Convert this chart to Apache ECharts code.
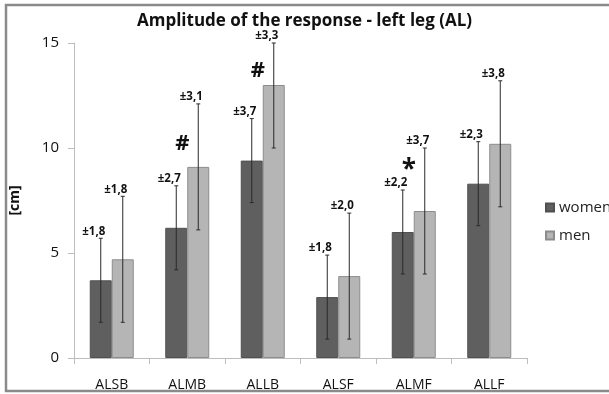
<!DOCTYPE html>
<html>
<head>
<meta charset="utf-8">
<script src="https://cdn.jsdelivr.net/npm/echarts@6/dist/echarts.min.js"></script>
<style>
  html, body { margin: 0; padding: 0; background: #fff; }
  #chart { width: 609px; height: 394px; }
</style>
</head>
<body>
<div id="chart"></div>
<script>
const categories = ['ALSB', 'ALMB', 'ALLB', 'ALSF', 'ALMF', 'ALLF'];
const women = [3.7, 6.2, 9.4, 2.9, 6.0, 8.3];
const men = [4.7, 9.1, 13.0, 3.9, 7.0, 10.2];
const womenErr = [2.0, 2.0, 2.0, 2.0, 2.0, 2.0];
const menErr = [3.0, 3.0, 3.0, 3.0, 3.0, 3.0];
const womenSdLabels = ['±1,8', '±2,7', '±3,7', '±1,8', '±2,2', '±2,3'];
const menSdLabels = ['±1,8', '±3,1', '±3,3', '±2,0', '±3,7', '±3,8'];
const marks = [
  { cat: 1, y: 10.2, text: '#' },
  { cat: 2, y: 13.7, text: '#' },
  { cat: 4, y: 9.2, text: '*' }
];
const yTicks = { min: 0, max: 15, interval: 5 };

const FONT = 'Open Sans';
const BAR_W = 22;

function errSeries(name, values, errs, labels, dx) {
  return {
    type: 'custom',
    name: name + '-err',
    z: 5,
    silent: true,
    data: values.map((v, i) => [i, v, errs[i]]),
    renderItem: function (params, api) {
      const i = api.value(0), v = api.value(1), e = api.value(2);
      const c = api.coord([i, v]);
      const x = c[0] + dx;
      const yt = api.coord([i, Math.min(v + e, yTicks.max)])[1];
      const yb = api.coord([i, Math.max(v - e, yTicks.min)])[1];
      return {
        type: 'group',
        children: [
          { type: 'line', shape: { x1: x, y1: yt, x2: x, y2: yb }, style: { stroke: '#2a2a2a', lineWidth: 1 } },
          { type: 'line', shape: { x1: x - 2, y1: yt, x2: x + 2, y2: yt }, style: { stroke: '#2a2a2a', lineWidth: 1 } },
          { type: 'line', shape: { x1: x - 2, y1: yb, x2: x + 2, y2: yb }, style: { stroke: '#2a2a2a', lineWidth: 1 } },
          { type: 'text', x: x - 7, y: yt - 1, style: { text: labels[params.dataIndex], font: 'bold 11.5px "' + FONT + '"', fill: '#111', align: 'center', verticalAlign: 'bottom' } }
        ]
      };
    }
  };
}

const chart = echarts.init(document.getElementById('chart'), null, { renderer: 'canvas' });
chart.setOption({
  animation: false,
  backgroundColor: '#fff',
  title: {
    text: 'Amplitude of the response - left leg (AL)',
    left: 'center',
    top: 8,
    textStyle: { fontFamily: FONT, fontWeight: 'bold', fontSize: 17, color: '#111' }
  },
  graphic: [{
    type: 'rect',
    shape: { x: 6, y: 5, width: 610, height: 386 },
    style: { fill: 'none', stroke: '#8a8a8a', lineWidth: 2.5 },
    silent: true
  }],
  legend: {
    orient: 'vertical',
    left: 540,
    top: 195,
    itemWidth: 8,
    itemHeight: 8,
    itemGap: 13,
    icon: 'rect',
    data: ['women', 'men'],
    textStyle: { fontFamily: FONT, fontSize: 15, color: '#222' }
  },
  grid: { left: 65, right: 82, top: 43, bottom: 36, containLabel: false },
  xAxis: {
    type: 'category',
    data: categories,
    axisLine: { lineStyle: { color: '#bdbdbd' } },
    axisTick: { show: true, length: 6, lineStyle: { color: '#bdbdbd' } },
    axisLabel: { margin: 20, fontFamily: FONT, fontSize: 14, color: '#111' },
    splitLine: { show: false }
  },
  yAxis: {
    type: 'value',
    min: yTicks.min, max: yTicks.max, interval: yTicks.interval,
    name: '[cm]',
    nameLocation: 'middle',
    nameRotate: 90,
    nameGap: 52,
    nameTextStyle: { fontFamily: FONT, fontWeight: 'bold', fontSize: 14, color: '#111' },
    axisLine: { show: true, lineStyle: { color: '#bdbdbd' } },
    axisTick: { show: true, length: 6, lineStyle: { color: '#bdbdbd' } },
    axisLabel: { margin: 15, fontFamily: FONT, fontSize: 15, color: '#111' },
    splitLine: { show: false }
  },
  series: [
    {
      name: 'women', type: 'bar', data: women, barWidth: BAR_W, barGap: '0%',
      itemStyle: { color: '#5f5f5f', borderColor: '#505050', borderWidth: 1 }
    },
    {
      name: 'men', type: 'bar', data: men, barWidth: BAR_W, barGap: '0%',
      itemStyle: { color: '#b5b5b5', borderColor: '#8c8c8c', borderWidth: 1 }
    },
    errSeries('women', women, womenErr, womenSdLabels, -BAR_W / 2),
    errSeries('men', men, menErr, menSdLabels, BAR_W / 2),
    {
      type: 'custom',
      name: 'marks',
      z: 6,
      silent: true,
      data: marks.map(m => [m.cat, m.y]),
      renderItem: function (params, api) {
        const c = api.coord([api.value(0), api.value(1)]);
        const m = marks[params.dataIndex];
        const isStar = m.text === '*';
        return {
          type: 'text',
          x: c[0] - 5,
          y: c[1] + (isStar ? 6 : 0),
          style: { text: m.text, font: 'bold ' + (isStar ? 26 : 22) + 'px "' + FONT + '"', fill: '#111', align: 'center', verticalAlign: 'middle' }
        };
      }
    }
  ]
});
</script>
</body>
</html>
